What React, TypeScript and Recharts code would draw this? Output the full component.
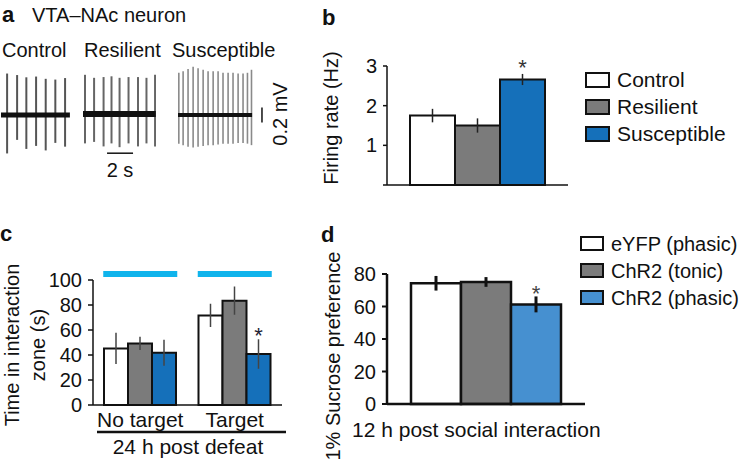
import React from 'react';
import { BarChart, Bar, ComposedChart, XAxis, YAxis, ErrorBar, ReferenceLine, ReferenceArea, LabelList } from 'recharts';

const FONT = '"Liberation Sans", Arial, Helvetica, sans-serif';

// ---- panel a: spike trains (spike time in s, peak / trough in mV)
const controlTimes = [0.44, 1.21, 1.92, 2.67, 3.41, 4.15, 4.9];
const controlPeaks = [0.55, 0.53, 0.5, 0.51, 0.48, 0.47, 0.49];
const controlTroughs = [-0.51, -0.33, -0.45, -0.41, -0.47, -0.37, -0.42];

const resilientTimes = [0.15, 0.85, 1.58, 2.19, 2.81, 3.5, 4.23, 4.88, 5.54];
const resilientPeaks = [0.52, 0.48, 0.49, 0.5, 0.48, 0.49, 0.49, 0.48, 0.52];
const resilientTroughs = [-0.39, -0.37, -0.43, -0.39, -0.44, -0.39, -0.43, -0.39, -0.43];

const susceptibleTimes = [0.08, 0.41, 0.79, 1.18, 1.56, 1.95, 2.33, 2.72, 3.1, 3.48, 3.87, 4.25, 4.64, 5.02, 5.36, 5.67];
const susceptiblePeaks = [0.56, 0.58, 0.61, 0.64, 0.62, 0.6, 0.58, 0.58, 0.58, 0.56, 0.56, 0.56, 0.55, 0.55, 0.56, 0.6];
const susceptibleTroughs = [-0.38, -0.4, -0.42, -0.43, -0.42, -0.41, -0.4, -0.4, -0.39, -0.38, -0.38, -0.38, -0.37, -0.37, -0.38, -0.4];

// ---- panel b: firing rate (Hz)
const firingGroups = ['Control', 'Resilient', 'Susceptible'];
const firingMeans = [1.75, 1.5, 2.66];
const firingSem = [0.17, 0.18, 0.14];
const firingSig = ['', '', '*'];
const firingTicks = [0, 1, 2, 3];

// ---- panel c: time in interaction zone (s)
const interactionCats = ['No target', 'Target'];
const interactionControl = [45.3, 71.7];
const interactionControlSem = [12.5, 9.3];
const interactionResilient = [49.3, 83.5];
const interactionResilientSem = [5.3, 11.3];
const interactionSusceptible = [41.9, 40.8];
const interactionSusceptibleSem = [10.4, 11.8];
const interactionSig = ['', '*'];
const interactionTicks = [0, 20, 40, 60, 80, 100];
const stimBand = [102.4, 107.2]; // blue light-on bar above each group

// ---- panel d: 1% sucrose preference
const sucroseGroups = ['eYFP (phasic)', 'ChR2 (tonic)', 'ChR2 (phasic)'];
const sucroseMeans = [74.3, 75.1, 61.3];
const sucroseSem = [4.5, 3, 4.9];
const sucroseSig = ['', '', '*'];
const sucroseTicks = [0, 20, 40, 60, 80];

const GRAY = '#7b7b7b';
const BLUE = '#1570ba';
const LIGHT_BLUE = '#4690d0';
const CYAN = '#10b4ec';
const groupFill = ['#ffffff', GRAY, BLUE];
const sucroseFill = ['#ffffff', GRAY, LIGHT_BLUE];

const PX_PER_S = 13;
const TRACE_H = 98;
const tickStyle = { fontSize: 20, fill: '#111', fontFamily: FONT };

function Trace({ left, top, times, peaks, troughs, traceDur, chartDur, color, spikeW, baseW, extra }: any) {
    const data = times.map((t: number, i: number) => ({ t, amp: [troughs[i], peaks[i]] }));
    return (
        <div style={{ position: 'absolute', left, top }}>
            <ComposedChart width={chartDur * PX_PER_S} height={TRACE_H} data={data} margin={{ top: 0, right: 0, bottom: 0, left: 0 }}>
                <XAxis dataKey="t" type="number" domain={[0, chartDur]} hide />
                <YAxis domain={[-0.65, 0.65]} hide />
                <Bar dataKey="amp" barSize={spikeW} fill={color} isAnimationActive={false} />
                <ReferenceLine segment={[{ x: 0, y: 0 }, { x: traceDur, y: 0 }]} stroke="#111" strokeWidth={baseW} />
                {extra}
            </ComposedChart>
        </div>
    );
}

const Star = (offset: number, color: string) => (props: any) => {
    const { x, y, width, value } = props;
    if (!value) return null;
    return <text x={x + width / 2} y={y - offset} textAnchor="middle" fontSize={22} fill={color} fontFamily={FONT}>{value}</text>;
};

export default function App() {
    const firingRow: any = { name: '' };
    firingGroups.forEach((g, i) => {
        firingRow[g] = firingMeans[i];
        firingRow[g + '_err'] = firingSem[i];
        firingRow[g + '_sig'] = firingSig[i];
    });

    const interactionData = interactionCats.map((c, i) => ({
        name: c,
        control: interactionControl[i], control_err: interactionControlSem[i],
        resilient: interactionResilient[i], resilient_err: interactionResilientSem[i],
        susceptible: interactionSusceptible[i], susceptible_err: interactionSusceptibleSem[i],
        susceptible_sig: interactionSig[i]
    }));
    const interactionKeys = ['control', 'resilient', 'susceptible'];

    const sucroseRow: any = { name: '' };
    sucroseGroups.forEach((g, i) => {
        sucroseRow[g] = sucroseMeans[i];
        sucroseRow[g + '_err'] = sucroseSem[i];
        sucroseRow[g + '_sig'] = sucroseSig[i];
    });

    // panel c geometry (band inset so the light bar spans the bars)
    const cPlotW = 189;
    const cBar = 24;
    const cInset = (cPlotW / interactionCats.length - 3 * cBar) / 2 - 1;

    return (
        <div style={{ position: 'absolute', left: 0, top: 0, width: 742, height: 469, background: '#fff', overflow: 'hidden', fontFamily: FONT }}>
            {/* a */}
            <Trace left={1} top={66} times={controlTimes} peaks={controlPeaks} troughs={controlTroughs}
                traceDur={5.3} chartDur={5.3} color="#555" spikeW={2} baseW={5} />
            <Trace left={83} top={65} times={resilientTimes} peaks={resilientPeaks} troughs={resilientTroughs}
                traceDur={5.6} chartDur={5.6} color="#666" spikeW={2} baseW={6}
                extra={<ReferenceLine segment={[{ x: 1.85, y: -0.52 }, { x: 3.85, y: -0.52 }]} stroke="#111" strokeWidth={1.5} />} />
            <Trace left={178} top={66} times={susceptibleTimes} peaks={susceptiblePeaks} troughs={susceptibleTroughs}
                traceDur={5.7} chartDur={6.7} color="#8a8a8a" spikeW={1.6} baseW={4}
                extra={<ReferenceLine segment={[{ x: 6.46, y: -0.1 }, { x: 6.46, y: 0.1 }]} stroke="#111" strokeWidth={1.5} />} />

            {/* b */}
            <div style={{ position: 'absolute', left: 327, top: 36 }}>
                <BarChart width={251} height={159} data={[firingRow]} margin={{ top: 30, right: 10, bottom: 0, left: 0 }} barGap={0}>
                    <XAxis dataKey="name" tick={false} tickLine={false} height={10} axisLine={{ stroke: '#111', strokeWidth: 1.5 }} />
                    <YAxis width={60} domain={[0, 3]} ticks={firingTicks} interval={0} tickFormatter={(v: number) => (v === 0 ? '' : String(v))}
                        tickSize={4} tickMargin={6} tick={tickStyle} axisLine={{ stroke: '#111', strokeWidth: 1.5 }} tickLine={{ stroke: '#111', strokeWidth: 1.5 }} />
                    {firingGroups.map((g, i) => (
                        <Bar key={g} dataKey={g} barSize={45} fill={groupFill[i]} stroke="#111" strokeWidth={2} isAnimationActive={false}>
                            <ErrorBar dataKey={g + '_err'} width={0} stroke="#222" strokeWidth={1.5} direction="y" />
                            <LabelList dataKey={g + '_sig'} content={Star(4, '#333')} />
                        </Bar>
                    ))}
                </BarChart>
            </div>

            {/* c */}
            <div style={{ position: 'absolute', left: 33, top: 250 }}>
                <BarChart width={259} height={185} data={interactionData} margin={{ top: 30, right: 10, bottom: 0, left: 0 }} barGap={0}>
                    <XAxis dataKey="name" tickLine={false} tickSize={0} tickMargin={7} height={30} interval={0} tick={{ ...tickStyle, fontSize: 21 }}
                        axisLine={{ stroke: '#111', strokeWidth: 1.5 }} />
                    <YAxis width={60} domain={[0, 100]} ticks={interactionTicks} interval={0} tickSize={5} tickMargin={6} tick={tickStyle}
                        axisLine={{ stroke: '#111', strokeWidth: 1.5 }} tickLine={{ stroke: '#111', strokeWidth: 1.5 }} />
                    {interactionCats.map((c) => (
                        <ReferenceArea key={c} x1={c} x2={c} y1={stimBand[0]} y2={stimBand[1]} ifOverflow="visible"
                            shape={(p: any) => <rect x={p.x + cInset} y={p.y} width={p.width - 2 * cInset} height={p.height} fill={CYAN} />} />
                    ))}
                    {interactionKeys.map((k, i) => (
                        <Bar key={k} dataKey={k} barSize={cBar} fill={groupFill[i]} stroke="#111" strokeWidth={2} isAnimationActive={false}>
                            <ErrorBar dataKey={k + '_err'} width={0} stroke="#444" strokeWidth={1.5} direction="y" />
                            {k === 'susceptible' && <LabelList dataKey="susceptible_sig" content={Star(11, '#223')} />}
                        </Bar>
                    ))}
                </BarChart>
            </div>

            {/* d */}
            <div style={{ position: 'absolute', left: 327, top: 244 }}>
                <BarChart width={268} height={170} data={[sucroseRow]} margin={{ top: 30, right: 10, bottom: 0, left: 0 }} barGap={0}>
                    <XAxis dataKey="name" tick={false} tickLine={false} height={10} axisLine={{ stroke: '#111', strokeWidth: 2.5 }} />
                    <YAxis width={60} domain={[0, 80]} ticks={sucroseTicks} interval={0} tickSize={5} tickMargin={6} tick={tickStyle}
                        axisLine={{ stroke: '#111', strokeWidth: 2.5 }} tickLine={{ stroke: '#111', strokeWidth: 2 }} />
                    {sucroseGroups.map((g, i) => (
                        <Bar key={g} dataKey={g} barSize={50} fill={sucroseFill[i]} stroke="#111" strokeWidth={2.5} isAnimationActive={false}>
                            <ErrorBar dataKey={g + '_err'} width={0} stroke="#111" strokeWidth={3} direction="y" />
                            <LabelList dataKey={g + '_sig'} content={Star(3.5, '#444')} />
                        </Bar>
                    ))}
                </BarChart>
            </div>

            {/* labels, titles and legends */}
            <svg width={742} height={469} style={{ position: 'absolute', left: 0, top: 0, pointerEvents: 'none' }} fontFamily={FONT} fill="#111">
                <text x={2} y={22} fontSize={22} fontWeight="bold">a</text>
                <text x={32} y={22} fontSize={20}>VTA–NAc neuron</text>
                <text x={2} y={57} fontSize={20}>Control</text>
                <text x={84} y={57} fontSize={20}>Resilient</text>
                <text x={172} y={57} fontSize={20}>Susceptible</text>
                <text x={120} y={177} fontSize={20} textAnchor="middle">2 s</text>
                <text x={287} y={114} fontSize={20} textAnchor="middle" transform="rotate(-90 287 114)">0.2 mV</text>

                <text x={322} y={25} fontSize={22} fontWeight="bold">b</text>
                <text x={338} y={118} fontSize={20} textAnchor="middle" transform="rotate(-90 338 118)">Firing rate (Hz)</text>
                {firingGroups.map((g, i) => (
                    <g key={g}>
                        <rect x={586} y={73 + i * 27} width={23} height={14} fill={groupFill[i]} stroke="#111" strokeWidth={2} />
                        <text x={617} y={87 + i * 27} fontSize={21}>{g}</text>
                    </g>
                ))}

                <text x={0} y={241} fontSize={22} fontWeight="bold">c</text>
                <text x={19} y={345} fontSize={20} textAnchor="middle" transform="rotate(-90 19 345)">Time in interaction</text>
                <text x={45} y={345} fontSize={20} textAnchor="middle" transform="rotate(-90 45 345)">zone (s)</text>
                <line x1={97} x2={286} y1={432} y2={432} stroke="#111" strokeWidth={2.5} />
                <text x={188} y={454} fontSize={21} textAnchor="middle">24 h post defeat</text>

                <text x={321} y={242} fontSize={22} fontWeight="bold">d</text>
                <text x={340} y={356} fontSize={20} textAnchor="middle" transform="rotate(-90 340 356)">1% Sucrose preference</text>
                <text x={352} y={437} fontSize={21}>12 h post social interaction</text>
                {sucroseGroups.map((g, i) => (
                    <g key={g}>
                        <rect x={581} y={237 + i * 27} width={22} height={13} fill={sucroseFill[i]} stroke="#111" strokeWidth={2} />
                        <text x={611} y={251 + i * 27} fontSize={20}>{g}</text>
                    </g>
                ))}
            </svg>
        </div>
    );
}
